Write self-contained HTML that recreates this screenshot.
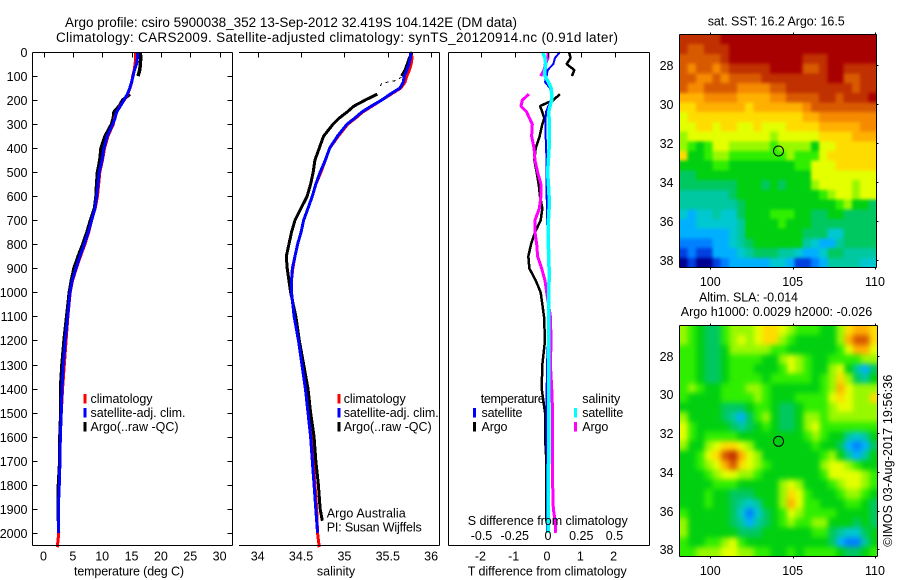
<!DOCTYPE html>
<html lang="en">
<head>
<meta charset="utf-8">
<title>Argo profile csiro 5900038_352</title>
<style>
html,body{margin:0;padding:0;background:#fff;width:900px;height:580px;overflow:hidden}
svg{display:block}
text{font-family:"Liberation Sans",Arial,sans-serif;font-size:12.5px;fill:#000}
.t{font-size:13.5px}
.path-line{fill:none;shape-rendering:crispEdges;stroke-linejoin:bevel;stroke-linecap:butt}
.ax{stroke:#000;stroke-width:1;shape-rendering:crispEdges;fill:none}
</style>
</head>
<body>
<svg id="chart" xmlns="http://www.w3.org/2000/svg" width="900" height="580" viewBox="0 0 900 580">
<defs>
<filter id="soft-sst" filterUnits="userSpaceOnUse" x="660" y="15" width="240" height="270" color-interpolation-filters="sRGB"><feGaussianBlur stdDeviation="1.5"/></filter>
<filter id="soft-sla" filterUnits="userSpaceOnUse" x="660" y="305" width="240" height="270" color-interpolation-filters="sRGB"><feGaussianBlur stdDeviation="2.6"/></filter>
<clipPath id="clip-sst"><rect x="679.5" y="34.5" width="197" height="233"/></clipPath>
<clipPath id="clip-sla"><rect x="679.5" y="325.5" width="198" height="231"/></clipPath>
</defs>
<text class="t" x="65" y="27" textLength="452" lengthAdjust="spacing">Argo profile: csiro 5900038_352 13-Sep-2012 32.419S 104.142E (DM data)</text>
<text class="t" x="56" y="42" textLength="562" lengthAdjust="spacing">Climatology: CARS2009. Satellite-adjusted climatology: synTS_20120914.nc (0.91d later)</text>

<g clip-path="url(#clip-sst)"><g id="sst-cells" filter="url(#soft-sst)"></g></g>
<g clip-path="url(#clip-sla)"><g id="sla-cells" filter="url(#soft-sla)"></g></g>
<g id="series"></g>
<g id="axes"></g>

<text x="129" y="575.5" text-anchor="middle" textLength="110" lengthAdjust="spacing">temperature (deg C)</text>
<text x="336" y="575.5" text-anchor="middle">salinity</text>
<text x="467.7" y="575.5" textLength="159" lengthAdjust="spacing">T difference from climatology</text>
<text x="467.7" y="525" textLength="160" lengthAdjust="spacing">S difference from climatology</text>

<g>
<rect x="83.5" y="394" width="3" height="9.5" fill="#f00"/>
<rect x="83.5" y="408" width="3" height="9.5" fill="#00f"/>
<rect x="83.5" y="422" width="3" height="9.5" fill="#000"/>
<text x="90.5" y="403" textLength="62" lengthAdjust="spacing">climatology</text>
<text x="90.5" y="417" textLength="95" lengthAdjust="spacing">satellite-adj. clim.</text>
<text x="90.5" y="431" textLength="88" lengthAdjust="spacing">Argo(..raw -QC)</text>
</g>
<g>
<rect x="337.5" y="394" width="3" height="9.5" fill="#f00"/>
<rect x="337.5" y="408" width="3" height="9.5" fill="#00f"/>
<rect x="337.5" y="422" width="3" height="9.5" fill="#000"/>
<text x="343.7" y="403" textLength="62" lengthAdjust="spacing">climatology</text>
<text x="343.7" y="417" textLength="95" lengthAdjust="spacing">satellite-adj. clim.</text>
<text x="343.7" y="431" textLength="88" lengthAdjust="spacing">Argo(..raw -QC)</text>
<text x="326.7" y="517.5" textLength="79" lengthAdjust="spacing">Argo Australia</text>
<text x="326.7" y="531.5" textLength="95" lengthAdjust="spacing">PI: Susan Wijffels</text>
</g>
<g>
<text x="480.7" y="403" textLength="64" lengthAdjust="spacing">temperature</text>
<rect x="473" y="408" width="3" height="9.5" fill="#00f"/>
<rect x="473" y="422" width="3" height="9.5" fill="#000"/>
<text x="481.5" y="417" textLength="41" lengthAdjust="spacing">satellite</text>
<text x="481.5" y="431" textLength="26" lengthAdjust="spacing">Argo</text>
<text x="582.3" y="403" textLength="38" lengthAdjust="spacing">salinity</text>
<rect x="574" y="408" width="3" height="9.5" fill="#0ff"/>
<rect x="574" y="422" width="3" height="9.5" fill="#f0f"/>
<text x="582.3" y="417" textLength="41" lengthAdjust="spacing">satellite</text>
<text x="582.3" y="431" textLength="26" lengthAdjust="spacing">Argo</text>
</g>

<text x="707.7" y="25.3" textLength="137" lengthAdjust="spacing">sat. SST: 16.2 Argo: 16.5</text>
<text x="699" y="301.7" textLength="99" lengthAdjust="spacing">Altim. SLA: -0.014</text>
<text x="680.7" y="316" textLength="191.5" lengthAdjust="spacing">Argo h1000: 0.0029 h2000: -0.026</text>
<text transform="translate(892,546.7) rotate(-90)" x="0" y="0" textLength="172" lengthAdjust="spacing">©IMOS 03-Aug-2017 19:56:36</text>
</svg>

<script>
// ---- profile data ----
const depths = [0,25,50,75,100,125,150,175,200,225,250,275,300,350,400,450,500,550,600,650,700,750,800,850,900,950,1000,1100,1200,1300,1400,1500,1600,1700,1800,1900,1950,2000,2060];
const tempClim = [15.7,15.7,15.6,15.45,15.2,15.05,14.75,14.35,13.75,13.0,12.5,12.1,11.9,10.98,10.4,10.05,9.6,9.4,9.2,8.8,8.2,7.7,7.05,6.3,5.6,4.95,4.55,4.15,3.85,3.55,3.25,3.03,2.87,2.81,2.69,2.52,2.55,2.6,2.35];
const tempSat = [16.0,16.0,15.85,15.5,15.25,15.0,14.7,14.3,13.7,13.1,12.45,12.2,11.8,10.87,10.3,9.97,9.5,9.28,9.06,8.77,8.2,7.63,6.95,6.2,5.53,4.9,4.51,4.12,3.71,3.37,3.15,3.03,2.87,2.81,2.69,2.52,2.52,2.52,null];
const tempArgo = [16.5,16.55,16.5,16.4,16.1,null,null,14.7,13.5,12.9,12.0,11.9,11.6,10.5,9.8,9.6,9.2,9.05,8.95,8.7,8.0,7.4,6.7,5.9,5.2,4.75,4.4,3.95,3.5,3.15,2.9,2.95,2.8,2.78,2.55,2.5,2.5,null,null];
const salClim = [35.77,35.78,35.77,35.75,35.72,35.70,35.65,35.54,35.43,35.32,35.21,35.13,35.04,34.93,34.83,34.78,34.73,34.67,34.63,34.58,34.53,34.50,34.46,34.43,34.405,34.39,34.39,34.42,34.47,34.51,34.55,34.58,34.62,34.64,34.66,34.68,34.685,34.69,34.71];
const salSat = [35.76,35.76,35.745,35.72,35.69,35.68,35.64,35.53,35.43,35.31,35.20,35.12,35.03,34.92,34.83,34.78,34.72,34.67,34.63,34.58,34.53,34.50,34.46,34.43,34.40,34.39,34.39,34.42,34.47,34.51,34.55,34.58,34.61,34.63,34.65,34.67,34.68,34.69,null];
const salArgo = [35.78,35.75,35.725,35.70,35.66,null,null,35.38,35.24,35.11,35.03,34.94,34.87,34.76,34.71,34.66,34.64,34.61,34.57,34.50,34.43,34.39,34.36,34.33,34.34,34.36,34.38,34.44,34.48,34.53,34.58,34.61,34.65,34.67,34.70,34.72,34.745,null,null];
const rawDepths = [105,120,130,145,158];
const rawSal = [35.66,35.58,35.43,35.41,35.41];
const diffTSat = [0.36,0.21,0.16,-0.01,-0.04,-0.09,0.06,0.09,0.09,0.01,-0.06,-0.07,-0.07,-0.07,-0.06,-0.04,-0.04,-0.04,-0.04,-0.03,-0.03,-0.01,0.01,0.02,0.02,0.02,0.01,0.0,0.0,-0.03,-0.04,-0.05,-0.05,-0.03,-0.03,-0.03,-0.03,-0.03,null];
const diffTArgo = [0.63,0.68,0.56,0.79,0.72,null,null,0.36,0.16,-0.24,-0.17,-0.11,-0.17,-0.25,-0.37,-0.41,-0.34,-0.28,-0.24,-0.17,-0.22,-0.39,-0.51,-0.59,-0.56,-0.37,-0.22,-0.12,-0.09,-0.17,-0.19,-0.09,-0.09,-0.05,-0.05,-0.05,-0.05,null,null];
const diffSSat = [-0.04,-0.023,-0.018,-0.023,-0.023,0.003,0.023,0.028,0.028,0.015,0.005,0.008,0.01,0.01,0.008,0.003,-0.003,0.003,0.008,0.008,0.003,0,0.003,0.005,0.008,0.008,0.005,0.005,0.005,0.005,0.004,0.004,0.004,0.004,0.003,0.003,0.003,0.003,null];
const diffSArgo = [0,0,-0.02,-0.03,-0.055,null,null,-0.143,-0.193,-0.203,-0.16,-0.14,-0.118,-0.123,-0.105,-0.098,-0.078,-0.053,-0.053,-0.065,-0.098,-0.098,-0.085,-0.078,-0.048,-0.023,-0.01,0.018,0.023,0.018,0.028,0.035,0.035,0.035,0.035,0.04,0.053,0.058,null];

// ---- tick labels ----
const depthTicks = [0,100,200,300,400,500,600,700,800,900,1000,1100,1200,1300,1400,1500,1600,1700,1800,1900,2000];
const tempTicks = [0,5,10,15,20,25,30];
const salTicks = [34,34.5,35,35.5,36];
const tDiffTicks = [-2,-1,0,1,2];
const sDiffTicks = [-0.5,-0.25,0,0.25,0.5];
const lonTicks = [100,105,110];
const latTicks = [28,30,32,34,36,38];
const floatLon = 104.142;
const floatLat = 32.419;

// ---- map levels (0 = coldest/lowest, 16 = warmest/highest), 0.5-degree rows ----
const sstRows = [
[15,15,15,15,15,16,16,16,16,16,16,16,16,16,16,16,16,16,16,16,16,16,16,16],
[15,14,14,15,15,15,16,16,16,16,16,16,16,16,16,16,16,16,16,16,16,16,16,16],
[14,14,14,14,14,15,16,16,16,16,16,16,16,16,16,15,15,15,16,16,16,16,16,16],
[14,13,14,14,13,14,15,15,15,15,15,16,16,16,16,14,14,15,16,16,15,15,15,15],
[14,14,13,13,14,13,14,14,14,14,15,15,15,15,15,15,15,15,16,16,14,14,15,15],
[14,13,13,14,14,14,14,13,13,13,13,14,14,15,15,15,15,15,15,15,15,14,15,15],
[12,12,12,13,13,13,13,12,12,12,12,13,13,14,14,14,14,15,15,14,15,15,15,16],
[11,11,12,12,12,12,12,12,11,12,12,12,12,12,12,13,14,14,14,14,14,14,14,14],
[10,11,11,11,11,11,11,11,11,11,11,11,11,11,11,12,12,13,13,13,13,13,13,13],
[10,10,11,11,10,11,11,10,10,11,10,10,10,11,11,11,11,12,12,12,12,12,13,13],
[9,10,10,10,10,10,10,10,10,10,10,9,10,10,10,10,10,11,11,11,11,12,12,12],
[9,8,7,8,10,10,9,9,9,9,9,8,9,9,9,9,7,10,10,11,11,11,11,11],
[11,7,7,8,9,9,8,8,8,8,8,8,8,9,8,8,8,10,11,11,11,11,11,11],
[7,7,7,7,8,8,7,7,7,7,7,7,7,7,8,8,10,10,10,11,11,11,11,11],
[6,6,7,7,7,7,7,7,7,7,7,7,7,7,7,7,10,10,10,10,10,10,10,10],
[6,6,6,6,6,6,6,7,7,7,6,7,6,7,7,7,9,10,10,10,10,9,10,10],
[5,5,5,5,5,5,6,7,7,7,7,7,7,7,7,7,7,8,9,10,10,9,10,10],
[5,5,5,5,5,5,5,6,7,7,7,7,7,7,7,7,7,7,7,8,9,7,7,6],
[4,3,4,4,5,4,4,6,7,7,7,8,8,8,7,7,6,6,7,7,6,6,6,6],
[3,3,4,4,4,4,4,5,7,7,7,7,8,7,7,7,6,6,6,6,6,6,6,6],
[3,3,3,3,3,3,4,5,7,7,7,7,7,7,7,6,6,6,4,4,6,6,6,6],
[2,2,2,2,3,3,4,5,6,7,7,7,7,7,7,5,4,3,3,5,6,6,6,6],
[1,2,1,1,3,3,3,4,5,6,6,6,5,5,4,3,3,4,6,6,5,5,5,5],
[0,1,0,0,1,2,3,3,3,3,3,4,4,3,1,1,2,3,5,5,5,5,4,4]
];
const slaRows = [
[9,8,7,6,6,8,9,9,9,10,11,11,10,9,8,8,8,7,7,9,11,12,12,11],
[9,8,7,6,6,8,9,10,9,10,11,11,9,8,7,7,7,7,7,9,12,14,14,11],
[8,8,7,6,6,7,9,9,9,9,9,8,8,7,7,7,7,7,7,8,10,12,12,10],
[8,8,7,6,6,7,8,8,8,8,7,7,9,10,9,8,7,7,8,8,8,8,9,9],
[8,8,7,6,6,7,8,8,8,7,7,7,8,10,9,8,7,7,9,10,7,5,3,6],
[8,8,7,6,6,7,8,8,8,8,7,8,8,8,8,8,7,8,9,11,9,6,5,7],
[8,9,8,7,7,8,8,8,9,9,8,7,7,7,7,7,7,8,9,12,10,9,9,9],
[8,7,7,7,7,8,8,8,8,9,8,7,7,7,8,8,8,8,10,11,10,9,9,11],
[7,7,7,7,7,6,6,6,7,8,8,7,6,6,7,8,8,8,9,10,10,9,9,9],
[9,7,7,7,7,6,5,3,6,8,9,7,6,6,7,9,9,8,9,9,9,9,9,9],
[10,8,7,7,7,7,6,5,6,7,8,7,6,6,7,9,10,8,8,8,8,8,8,8],
[10,8,7,8,8,8,8,7,7,7,7,7,7,7,7,8,9,8,7,7,5,4,5,7],
[9,7,7,9,10,11,11,10,9,7,7,7,7,7,7,7,8,7,7,6,3,2,3,6],
[7,7,8,10,11,14,15,12,10,9,7,7,7,7,7,7,7,8,9,7,5,3,5,7],
[7,7,8,9,10,12,14,11,10,9,8,7,7,7,7,7,7,9,10,10,9,8,7,7],
[7,7,7,8,9,10,10,9,9,8,7,7,7,7,7,7,7,8,10,10,10,10,9,8],
[7,7,7,7,8,8,8,7,7,7,7,7,9,10,9,7,7,7,8,9,10,10,9,8],
[7,7,7,8,7,7,6,6,6,7,7,7,9,11,10,8,7,7,7,8,9,9,8,7],
[7,7,7,8,7,7,6,5,4,5,7,7,9,12,10,8,8,7,7,7,8,8,7,6],
[8,7,7,7,7,7,6,4,2,4,6,7,8,10,9,8,8,8,8,7,7,7,7,6],
[9,7,7,7,7,7,6,5,3,5,6,7,8,9,8,8,9,9,7,7,7,6,7,6],
[9,7,7,7,7,7,7,6,6,6,7,7,7,7,7,7,8,8,6,5,4,4,6,7],
[8,7,7,8,8,9,10,8,7,7,7,7,7,7,7,7,7,7,6,3,2,2,5,7],
[8,8,9,9,9,10,10,9,9,8,8,7,7,8,7,8,8,8,8,7,6,6,7,8]
];

// ---- rendering ----
const NS = 'http://www.w3.org/2000/svg';
const levelColor = ['#000090','#0040e0','#0080ff','#00b0ff','#00c8d0','#00c8a0','#00c860','#00d010','#30ee00','#98f800','#e4ff00','#ffdc00','#ffb000','#f58a00','#d85a00','#c03000','#a80000'];
const seriesGroup = document.getElementById('series');
const axesGroup = document.getElementById('axes');

function mk(tag, parent, attrs, text) {
  const el = document.createElementNS(NS, tag);
  for (const k in attrs) el.setAttribute(k, attrs[k]);
  if (text !== undefined) el.textContent = text;
  parent.appendChild(el);
  return el;
}
function yDepth(d) { return 52 + d * 0.2404; }
function xTemp(v) { return 43.5 + v * 5.87; }
function xSal(v) { return 257.7 + (v - 34) * 86.7; }
function xTDiff(v) { return 548 + v * 33.3; }
function xSDiff(v) { return 548 + v * 133; }

function drawSeries(ds, vs, xFn, color, width, name, dash) {
  let d = '';
  let pen = false;
  for (let i = 0; i < ds.length; i++) {
    if (vs[i] === null || vs[i] === undefined) { pen = false; continue; }
    d += (pen ? 'L' : 'M') + xFn(vs[i]).toFixed(2) + ' ' + yDepth(ds[i]).toFixed(2);
    pen = true;
  }
  const attrs = { d: d, class: 'path-line', stroke: color, 'stroke-width': width };
  if (dash) attrs['stroke-dasharray'] = dash;
  const path = mk('path', seriesGroup, attrs);
  
  
}

function axisLine(x1, y1, x2, y2, name) {
  const line = mk('line', axesGroup, { x1: x1, y1: y1, x2: x2, y2: y2, class: 'ax' });
  
  
}
function tickLabel(x, y, str, anchor, name) {
  const txt = mk('text', axesGroup, { x: x, y: y, 'text-anchor': anchor }, str);
  
  
}

// panel frames
const frameTop = 52.5;
const frameBottom = 545.5;
axisLine(32.5, frameTop, 232.5, frameTop, 'temperature-top-axis');
axisLine(32.5, frameBottom, 232.5, frameBottom, 'temperature-bottom-axis');
axisLine(32.5, frameTop, 32.5, frameBottom, 'depth-axis');
axisLine(232.5, frameTop, 232.5, frameBottom, 'temperature-right-axis');
axisLine(239, frameTop, 439.5, frameTop, 'salinity-top-axis');
axisLine(239, frameBottom, 439.5, frameBottom, 'salinity-bottom-axis');
axisLine(439.5, frameTop, 439.5, frameBottom, 'salinity-right-axis');
axisLine(448.5, frameTop, 649.5, frameTop, 'difference-top-axis');
axisLine(448.5, frameBottom, 649.5, frameBottom, 'difference-bottom-axis');
axisLine(448.5, frameTop, 448.5, frameBottom, 'difference-left-axis');
axisLine(649.5, frameTop, 649.5, frameBottom, 'difference-right-axis');

// depth ticks
depthTicks.forEach(function (d) {
  const y = Math.round(yDepth(d)) + 0.5;
  axisLine(32.5, y, 37.5, y, 'depth-tick-left');
  axisLine(227.5, y, 232.5, y, 'depth-tick-right');
  tickLabel(27.5, y + 4.5, String(d), 'end', 'depth-tick-label');
});
// top ticks + bottom labels
tempTicks.forEach(function (v) {
  const x = Math.round(xTemp(v)) + 0.5;
  axisLine(x, frameTop, x, frameTop + 5, 'temperature-tick');
  tickLabel(xTemp(v), 560.5, String(v), 'middle', 'temperature-tick-label');
});
salTicks.forEach(function (v) {
  const x = Math.round(xSal(v)) + 0.5;
  axisLine(x, frameTop, x, frameTop + 5, 'salinity-tick');
  tickLabel(xSal(v), 560.5, String(v), 'middle', 'salinity-tick-label');
});
tDiffTicks.forEach(function (v) {
  const x = Math.round(xTDiff(v)) + 0.5;
  axisLine(x, frameTop, x, frameTop + 5, 'difference-tick');
  tickLabel(xTDiff(v) - 1, 560.5, String(v), 'middle', 't-difference-tick-label');
});
sDiffTicks.forEach(function (v) {
  tickLabel(xSDiff(v), 540, String(v), 'middle', 's-difference-tick-label');
});

// temperature series
drawSeries(depths, tempArgo, xTemp, '#000', 3.5, 'temperature-argo-line');
drawSeries(depths, tempClim, xTemp, '#f00', 3, 'temperature-climatology-line');
drawSeries(depths, tempSat, xTemp, '#00f', 3, 'temperature-satellite-line');
// salinity series
drawSeries(depths, salClim, xSal, '#f00', 3, 'salinity-climatology-line');
drawSeries(depths, salArgo, xSal, '#000', 3, 'salinity-argo-line');
drawSeries(depths, salSat, xSal, '#00f', 3, 'salinity-satellite-line');
drawSeries(rawDepths, rawSal, xSal, '#000', 1, 'salinity-raw-argo-dotted-line', '3 4');
// difference series
drawSeries(depths, diffTArgo, xTDiff, '#000', 2.5, 't-difference-argo-line');
drawSeries(depths, diffTSat, xTDiff, '#00f', 2, 't-difference-satellite-line');
drawSeries(depths, diffSArgo, xSDiff, '#f0f', 3, 's-difference-argo-line');
drawSeries(depths, diffSSat, xSDiff, '#0ff', 3.5, 's-difference-satellite-line');

// maps
function drawMap(rows, host, left, right, topY, botY, lat28, latScale, name) {
  const nR = rows.length;
  const nC = rows[0].length;
  const cw = (right - left) / nC;
  const ch = (botY - topY) / nR;
  const bleed = 12; // edge cells run past the clip so the soft filter keeps full colour at the border
  rows.forEach(function (row, r) {
    row.forEach(function (v, c) {
      const x0 = left + c * cw - (c === 0 ? bleed : 0);
      const x1 = left + (c + 1) * cw + (c === nC - 1 ? bleed : 0);
      const y0 = topY + r * ch - (r === 0 ? bleed : 0);
      const y1 = topY + (r + 1) * ch + (r === nR - 1 ? bleed : 0);
      const cell = mk('rect', host, {
        x: x0.toFixed(2),
        y: y0.toFixed(2),
        width: (x1 - x0 + 0.4).toFixed(2),
        height: (y1 - y0 + 0.4).toFixed(2),
        fill: levelColor[v],
        'shape-rendering': 'crispEdges'
      });
      
      
    });
  });
  const xLon = function (lon) { return 710.3 + (lon - 100) * 16.47; };
  const yLat = function (lat) { return lat28 + (lat - 28) * latScale; };
  axisLine(left, topY, right, topY, name + '-top-axis');
  axisLine(left, botY, right, botY, name + '-bottom-axis');
  axisLine(left, topY, left, botY, name + '-left-axis');
  axisLine(right, topY, right, botY, name + '-right-axis');
  lonTicks.forEach(function (lon) {
    const x = Math.round(xLon(lon)) + 0.5;
    axisLine(x, topY - 2, x, topY, name + '-top-tick');
    axisLine(x, botY, x, botY + 2, name + '-bottom-tick');
    tickLabel(xLon(lon), botY + 18.5, String(lon), 'middle', name + '-longitude-label');
  });
  latTicks.forEach(function (lat) {
    const y = Math.round(yLat(lat)) + 0.5;
    axisLine(right, y, right + 2, y, name + '-right-tick');
    tickLabel(673.5, y + 4.5, String(lat), 'end', name + '-latitude-label');
  });
  const marker = mk('circle', axesGroup, {
    cx: xLon(floatLon).toFixed(2),
    cy: yLat(floatLat).toFixed(2),
    r: 5,
    fill: 'none',
    stroke: '#000',
    'stroke-width': 1
  });
  
  
}
drawMap(sstRows, document.getElementById('sst-cells'), 679.5, 876.5, 34.5, 267.5, 65, 19.45, 'sst-map');
drawMap(slaRows, document.getElementById('sla-cells'), 679.5, 877.5, 325.5, 556.5, 355.7, 19.37, 'sla-map');
</script>
</body>
</html>
